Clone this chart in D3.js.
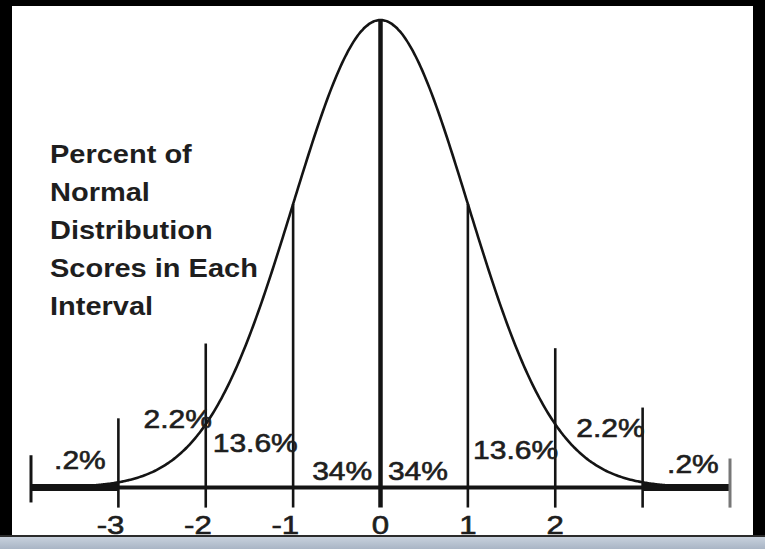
<!DOCTYPE html>
<html><head><meta charset="utf-8">
<script src="https://cdn.jsdelivr.net/npm/d3@7"></script>
<style>html,body{margin:0;padding:0;background:#000;overflow:hidden}</style>
</head><body>
<script>
// ---- data ----
const zTicks = [-3, -2, -1, 0, 1, 2, 3];
const tickLabels = ["-3", "-2", "-1", "0", "1", "2"];
const titleLines = ["Percent of", "Normal", "Distribution", "Scores in Each", "Interval"];
const pctTexts = [".2%", "2.2%", "13.6%", "34%", "34%", "13.6%", "2.2%", ".2%"];
// where each percent label sits (z units) and its height above the axis (fraction of peak)
const pctZ = [-3.44, -1.93, -1.92, -0.095, 0.085, 1.06, 2.24, 3.28];
const pctLevel = [0.04, 0.128, 0.075, 0.015, 0.015, 0.062, 0.107, 0.032];
const pctAnchor = ["middle", "end", "start", "end", "start", "start", "start", "start"];
// guide line heights (fraction of peak); null = up to the curve
const guideTop = [0.148, 0.308, null, null, null, 0.298, 0.171];
const guideBottom = -0.043;
const endTicks = [-4, 4];
const endTop = [0.069, 0.062];
const endBottom = [-0.032, -0.043];

const W = 765, H = 549;
const svg = d3.select("body").append("svg").attr("width", W).attr("height", H)
  .style("display", "block");

// frame
svg.append("rect").attr("x", 0).attr("y", 0).attr("width", W).attr("height", H).attr("fill", "#000");
svg.append("rect").attr("x", 12).attr("y", 6).attr("width", 741).attr("height", 530).attr("fill", "#fff");

const x = d3.scaleLinear().domain([-4, 4]).range([31, 730]);
const y = d3.scaleLinear().domain([0, 1]).range([487.5, 20]);
const pdf = z => Math.exp(-z * z / 2);

const ink = "#141414";
const g = svg.append("g");

// axis line
g.append("line").attr("x1", x(-4)).attr("x2", x(4)).attr("y1", y(0)).attr("y2", y(0))
  .attr("stroke", ink).attr("stroke-width", 4);
// thicker outer segments
[[-4, -3], [3, 4]].forEach(([a, b]) => {
  g.append("line").attr("x1", x(a)).attr("x2", x(b)).attr("y1", y(0)).attr("y2", y(0))
    .attr("stroke", ink).attr("stroke-width", 7);
});

// end ticks
endTicks.forEach((z, i) => {
  g.append("line").attr("x1", x(z)).attr("x2", x(z)).attr("y1", y(endTop[i])).attr("y2", y(endBottom[i]))
    .attr("stroke", i === 0 ? ink : "#777").attr("stroke-width", 3);
});

// guide lines
zTicks.forEach((z, i) => {
  const top = guideTop[i] === null ? pdf(z) : guideTop[i];
  g.append("line").attr("x1", x(z)).attr("x2", x(z)).attr("y1", y(top)).attr("y2", y(guideBottom))
    .attr("stroke", ink).attr("stroke-width", z === 0 ? 4.5 : 2.6);
});

// curve
const zs = d3.range(-3.3, 3.3001, 0.02);
const line = d3.line().x(z => x(z)).y(z => y(pdf(z))).curve(d3.curveBasis);
g.append("path").datum(zs).attr("d", line).attr("fill", "none")
  .attr("stroke", ink).attr("stroke-width", 2.6);

const fam = "'Liberation Sans', Arial, Helvetica, sans-serif";
const txt = "#1e1e1e";

// percent labels
pctTexts.forEach((t, i) => {
  g.append("text").text(t)
    .attr("transform", `translate(${x(pctZ[i])},${y(pctLevel[i])}) scale(1.2,1)`)
    .attr("text-anchor", pctAnchor[i])
    .attr("font-family", fam).attr("font-size", 25).attr("fill", txt)
    .attr("stroke", txt).attr("stroke-width", 0.6);
});

// title
titleLines.forEach((t, i) => {
  g.append("text").text(t)
    .attr("transform", `translate(50,${163 + i * 38}) scale(1.16,1)`)
    .attr("font-family", fam).attr("font-size", 25).attr("font-weight", "bold").attr("fill", txt);
});

// tick labels
tickLabels.forEach((t, i) => {
  const z = zTicks[i];
  const neg = z < 0;
  g.append("text").text(t)
    .attr("transform", `translate(${x(z) + (neg ? 6 : 0)},534) scale(1.2,1)`)
    .attr("text-anchor", neg ? "end" : "middle")
    .attr("font-family", fam).attr("font-size", 26).attr("fill", txt)
    .attr("stroke", txt).attr("stroke-width", 0.6);
});

// bottom bar
const defs = svg.append("defs");
const grad = defs.append("linearGradient").attr("id", "bar").attr("x1", 0).attr("x2", 0).attr("y1", 0).attr("y2", 1);
grad.append("stop").attr("offset", 0).attr("stop-color", "#c8d1dd");
grad.append("stop").attr("offset", 1).attr("stop-color", "#a9b5c5");
svg.append("rect").attr("x", 0).attr("y", 535).attr("width", W).attr("height", 2).attr("fill", "#2b2b2b");
svg.append("rect").attr("x", 0).attr("y", 537).attr("width", W).attr("height", 12).attr("fill", "url(#bar)");
</script>
</body></html>
